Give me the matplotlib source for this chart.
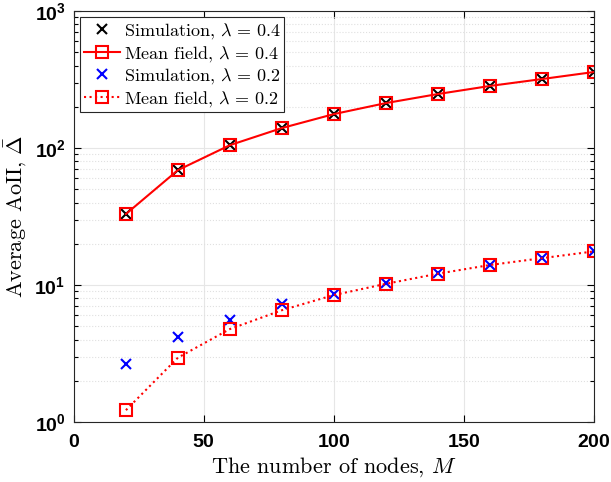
import numpy as np
import matplotlib
matplotlib.use('Agg')
import matplotlib.pyplot as plt
from matplotlib.ticker import FuncFormatter, LogLocator, NullFormatter

plt.rcParams['mathtext.fontset'] = 'cm'
plt.rcParams['axes.formatter.use_mathtext'] = True

nodes = [20, 40, 60, 80, 100, 120, 140, 160, 180, 200]
sim_04 = [33, 69, 105, 140, 177, 213, 248, 284, 319, 359]
mf_04 = [33, 69, 105, 140, 177, 213, 248, 284, 319, 359]
sim_02 = [2.65, 4.17, 5.55, 7.27, 8.6, 10.3, 12.2, 14.0, 15.7, 17.6]
mf_02 = [1.22, 2.95, 4.77, 6.55, 8.45, 10.2, 12.1, 14.0, 15.7, 17.6]

fig = plt.figure(figsize=(6.11, 4.82), dpi=100)
ax = fig.add_axes([0.121, 0.1245, 0.851, 0.8525])

ax.semilogy(nodes, sim_04, 'x', color='k', ms=7, mew=1.5,
            label=r'Simulation, $\lambda\,=\,0.4$')
ax.semilogy(nodes, mf_04, '-s', color='r', ms=8, mew=1.5, lw=1.5,
            mfc='none', label=r'Mean field, $\lambda\,=\,0.4$')
ax.semilogy(nodes, sim_02, 'x', color='b', ms=7, mew=1.5,
            label=r'Simulation, $\lambda\,=\,0.2$')
ax.semilogy(nodes, mf_02, ':s', color='r', ms=8, mew=1.5, lw=1.5,
            mfc='none', label=r'Mean field, $\lambda\,=\,0.2$')

ax.set_xlim(0, 200)
ax.set_ylim(1, 1000)
ax.set_xticks([0, 50, 100, 150, 200])
ax.yaxis.set_major_locator(LogLocator(base=10, numticks=10))
ax.yaxis.set_minor_locator(LogLocator(base=10, subs=np.arange(2, 10), numticks=10))
ax.yaxis.set_minor_formatter(NullFormatter())
ax.yaxis.set_major_formatter(FuncFormatter(lambda v, p: r'$\mathdefault{10^{%d}}$' % round(np.log10(v))))

ax.grid(True, which='major', color='#e6e6e6', lw=0.8, ls='-')
ax.grid(True, which='minor', axis='y', color='#e0e0e0', lw=0.8, ls=':')
ax.set_axisbelow(True)
ax.tick_params(which='both', direction='in', top=True, right=True, width=0.8)
ax.tick_params(which='major', length=5, labelsize=14)
ax.tick_params(axis='x', which='major', pad=9)
ax.tick_params(axis='y', which='major', pad=6)
ax.tick_params(which='minor', length=3)
for lbl in ax.get_xticklabels() + ax.get_yticklabels():
    lbl.set_fontfamily('Liberation Sans')
    lbl.set_fontweight('bold')
for s in ax.spines.values():
    s.set_color('#262626')
    s.set_linewidth(0.8)

ax.set_xlabel(r'The number of nodes, $M$', fontsize=16, family='cmr10', labelpad=3)
ax.set_ylabel(r'Average AoII, $\bar{\Delta}$', fontsize=16, family='cmr10', labelpad=4)

leg = ax.legend(loc='upper left', prop={'family': 'cmr10', 'size': 13},
                fancybox=False, edgecolor='#262626',
                framealpha=1, borderpad=0.2, labelspacing=0.15, handlelength=2.0,
                handletextpad=0.2, borderaxespad=0.35)
leg.get_frame().set_linewidth(0.8)

fig.savefig('out.png', dpi=100)
